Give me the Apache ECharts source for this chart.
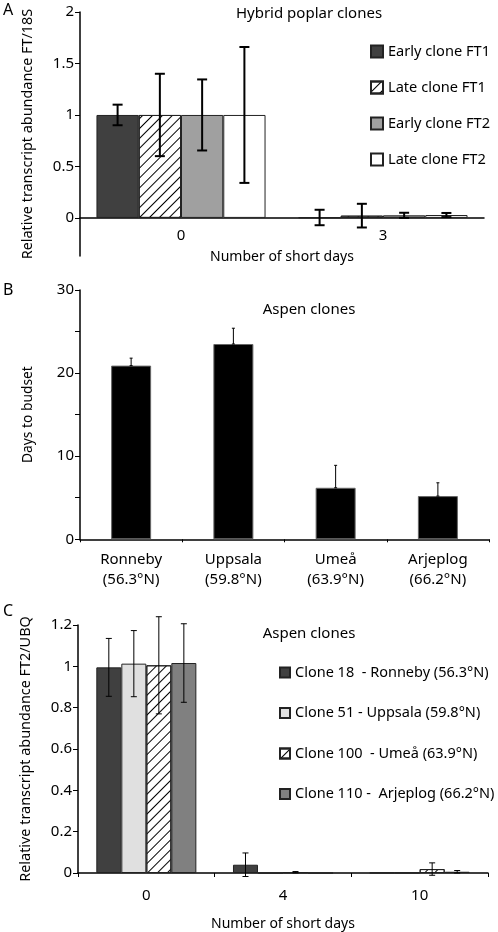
<!DOCTYPE html>
<html>
<head>
<meta charset="utf-8">
<script src="https://cdn.jsdelivr.net/npm/echarts@6/dist/echarts.min.js"></script>
<style>html,body{margin:0;padding:0;background:#fff;}#c{width:498px;height:932px;}</style>
</head>
<body>
<div id="c"></div>
<script>
// ---------- Panel A data ----------
const catsA = ['0', '3'];
const namesA = ['Early clone FT1', 'Late clone FT1', 'Early clone FT2', 'Late clone FT2'];
const earlyFT1 = [1.0, 0.004];
const lateFT1 = [1.0, 0.022];
const earlyFT2 = [1.0, 0.025];
const lateFT2 = [1.0, 0.028];
const errEarlyFT1 = [0.10, 0.075];
const errLateFT1 = [0.40, 0.115];
const errEarlyFT2 = [0.345, 0.025];
const errLateFT2 = [0.66, 0.02];
const ticksA = [0, 0.5, 1, 1.5, 2];
const rangeA = [-0.37, 2];

// ---------- Panel B data ----------
const catsB = ['Ronneby\n(56.3°N)', 'Uppsala\n(59.8°N)', 'Umeå\n(63.9°N)', 'Arjeplog\n(66.2°N)'];
const daysToBudset = [20.9, 23.5, 6.2, 5.2];
const errBudset = [0.9, 1.9, 2.7, 1.6];

// ---------- Panel C data ----------
const catsC = ['0', '4', '10'];
const namesC = ['Clone 18  - Ronneby (56.3°N)', 'Clone 51 - Uppsala (59.8°N)', 'Clone 100  - Umeå (63.9°N)', 'Clone 110 -  Arjeplog (66.2°N)'];
const clone18 = [0.995, 0.040, 0.001];
const clone51 = [1.013, 0.000, 0.001];
const clone100 = [1.005, 0.004, 0.019];
const clone110 = [1.016, 0.000, 0.006];
const errClone18 = [0.14, 0.057, 0];
const errClone51 = [0.16, 0, 0];
const errClone100 = [0.235, 0.003, 0.030];
const errClone110 = [0.19, 0, 0.006];

const FONT = 'Noto Sans';
const hatch = { symbol: 'rect', symbolSize: 1, dashArrayX: [1, 0], dashArrayY: [1, 6], rotation: -Math.PI / 4, color: '#000' };

function errData(valsList, errList, both) {
  const out = [];
  valsList.forEach((vals, s) => {
    vals.forEach((v, c) => {
      const e = errList[s][c];
      if (e > 0) out.push([c, s, both ? v - e : v, v + e]);
    });
  });
  return out;
}

function errRender(n, gapPct, capHalf, lw, fixedW) {
  return function (params, api) {
    const c = api.value(0), s = api.value(1), lo = api.value(2), hi = api.value(3);
    const band = api.size([1, 0])[0];
    let cx;
    if (fixedW) {
      cx = api.coord([c, 0])[0];
    } else {
      const groupW = band * (1 - gapPct);
      const bw = groupW / n;
      cx = api.coord([c, 0])[0] - groupW / 2 + bw * (s + 0.5);
    }
    const yl = api.coord([c, lo])[1], yh = api.coord([c, hi])[1];
    const st = { stroke: '#000', lineWidth: lw };
    return {
      type: 'group',
      children: [
        { type: 'line', shape: { x1: cx, y1: yl, x2: cx, y2: yh }, style: st },
        { type: 'line', shape: { x1: cx - capHalf, y1: yh, x2: cx + capHalf, y2: yh }, style: st },
        { type: 'line', shape: { x1: cx - capHalf, y1: yl, x2: cx + capHalf, y2: yl }, style: st }
      ]
    };
  };
}

const axisTxt = { color: '#000', fontFamily: FONT, fontSize: 15 };
const nameTxt = (fs) => ({ color: '#000', fontFamily: FONT, fontSize: fs });
const blackLine = (w) => ({ show: true, onZero: false, lineStyle: { color: '#000', width: w } });

const gridA = { left: 80, top: 12, width: 404, height: 244 };
// x axis of panel A sits at value 0 of its y axis
const offsetA = -gridA.height * (0 - rangeA[0]) / (rangeA[1] - rangeA[0]);

const chart = echarts.init(document.getElementById('c'), null, { renderer: 'canvas' });
const option = {
  backgroundColor: '#fff',
  animation: false,
  textStyle: { fontFamily: FONT },
  graphic: [
    { type: 'text', left: 3, top: 2, style: { text: 'A', fontSize: 16, fontFamily: FONT, fill: '#000' } },
    { type: 'text', left: 3, top: 282, style: { text: 'B', fontSize: 16, fontFamily: FONT, fill: '#000' } },
    { type: 'text', left: 3, top: 603, style: { text: 'C', fontSize: 16, fontFamily: FONT, fill: '#000' } },
    { type: 'text', x: 309, y: 14, style: { text: 'Hybrid poplar clones', fontSize: 15, fontFamily: FONT, fill: '#000', align: 'center', verticalAlign: 'middle' } },
    { type: 'text', x: 309, y: 310, style: { text: 'Aspen clones', fontSize: 15, fontFamily: FONT, fill: '#000', align: 'center', verticalAlign: 'middle' } },
    { type: 'text', x: 309, y: 634, style: { text: 'Aspen clones', fontSize: 15, fontFamily: FONT, fill: '#000', align: 'center', verticalAlign: 'middle' } }
  ],
  legend: [
    {
      data: namesA, orient: 'vertical', left: 370, top: 44, padding: 0, itemWidth: 12, itemHeight: 12, itemGap: 21,
      icon: 'rect', textStyle: { color: '#000', fontSize: 14.6, fontFamily: FONT, lineHeight: 15 }, selectedMode: false
    },
    {
      data: namesC, orient: 'vertical', left: 279, top: 665, padding: 0, itemWidth: 10, itemHeight: 10, itemGap: 25.5,
      icon: 'rect', textStyle: { color: '#000', fontSize: 14.5, fontFamily: FONT, lineHeight: 15 }, selectedMode: false
    }
  ],
  grid: [
    gridA,
    { left: 80, top: 290, width: 409, height: 249.3 },
    { left: 78, top: 625, width: 410, height: 248.3 }
  ],
  xAxis: [
    {
      gridIndex: 0, type: 'category', data: catsA, offset: offsetA, axisTick: { show: false }, axisLine: blackLine(1.5),
      axisLabel: Object.assign({ margin: 10 }, axisTxt),
      name: 'Number of short days', nameLocation: 'middle', nameGap: 32, nameTextStyle: nameTxt(14)
    },
    {
      gridIndex: 1, type: 'category', data: catsB, axisTick: { show: true, length: 3, lineStyle: { color: '#000' } }, axisLine: blackLine(1.5),
      axisLabel: Object.assign({ margin: 10, lineHeight: 20 }, axisTxt)
    },
    {
      gridIndex: 2, type: 'category', data: catsC, axisTick: { show: true, length: 4, lineStyle: { color: '#000' } }, axisLine: blackLine(1.5),
      axisLabel: Object.assign({ margin: 15 }, axisTxt),
      name: 'Number of short days', nameLocation: 'middle', nameGap: 44, nameTextStyle: nameTxt(14)
    }
  ],
  yAxis: [
    {
      gridIndex: 0, type: 'value', min: rangeA[0], max: rangeA[1], splitLine: { show: false }, axisLine: blackLine(1.5),
      axisTick: { show: true, length: 5, customValues: ticksA, lineStyle: { color: '#000' } },
      axisLabel: Object.assign({ margin: 6, customValues: ticksA }, axisTxt),
      name: 'Relative transcript abundance FT/18S', nameLocation: 'middle', nameGap: 45, nameTextStyle: nameTxt(14.4)
    },
    {
      gridIndex: 1, type: 'value', min: 0, max: 30, interval: 5, splitLine: { show: false }, axisLine: blackLine(1.5),
      axisTick: { show: true, length: 5, lineStyle: { color: '#000' } },
      axisLabel: Object.assign({ margin: 6, formatter: (v) => (v % 10 === 0 ? String(v) : '') }, axisTxt),
      name: 'Days to budset', nameLocation: 'middle', nameGap: 45, nameTextStyle: nameTxt(13.8)
    },
    {
      gridIndex: 2, type: 'value', min: 0, max: 1.2, interval: 0.2, splitLine: { show: false }, axisLine: blackLine(1.5),
      axisTick: { show: true, length: 5, lineStyle: { color: '#000' } },
      axisLabel: Object.assign({ margin: 6 }, axisTxt),
      name: 'Relative transcript abundance FT2/UBQ', nameLocation: 'middle', nameGap: 45, nameTextStyle: nameTxt(14.4)
    }
  ],
  series: [
    // Panel A bars
    { name: namesA[0], type: 'bar', xAxisIndex: 0, yAxisIndex: 0, data: earlyFT1, barGap: '0%', barCategoryGap: '16.3%', itemStyle: { color: '#404040', borderColor: '#222', borderWidth: 1 } },
    { name: namesA[1], type: 'bar', xAxisIndex: 0, yAxisIndex: 0, data: lateFT1, barGap: '0%', barCategoryGap: '16.3%', itemStyle: { color: '#fff', borderColor: '#222', borderWidth: 1, decal: hatch } },
    { name: namesA[2], type: 'bar', xAxisIndex: 0, yAxisIndex: 0, data: earlyFT2, barGap: '0%', barCategoryGap: '16.3%', itemStyle: { color: '#a0a0a0', borderColor: '#222', borderWidth: 1 } },
    { name: namesA[3], type: 'bar', xAxisIndex: 0, yAxisIndex: 0, data: lateFT2, barGap: '0%', barCategoryGap: '16.3%', itemStyle: { color: '#fff', borderColor: '#222', borderWidth: 1 } },
    {
      name: 'errA', type: 'custom', xAxisIndex: 0, yAxisIndex: 0, z: 5,
      renderItem: errRender(4, 0.163, 5, 2, false),
      encode: { x: 0, y: [2, 3] },
      data: errData([earlyFT1, lateFT1, earlyFT2, lateFT2], [errEarlyFT1, errLateFT1, errEarlyFT2, errLateFT2], true)
    },
    // Panel B
    { name: 'Days to budset', type: 'bar', xAxisIndex: 1, yAxisIndex: 1, data: daysToBudset, barWidth: 40, itemStyle: { color: '#000', borderColor: '#666', borderWidth: 1 } },
    {
      name: 'errB', type: 'custom', xAxisIndex: 1, yAxisIndex: 1, z: 5,
      renderItem: errRender(1, 0, 1.5, 1, true),
      encode: { x: 0, y: [2, 3] },
      data: errData([daysToBudset], [errBudset], false)
    },
    // Panel C bars
    { name: namesC[0], type: 'bar', xAxisIndex: 2, yAxisIndex: 2, data: clone18, barGap: '0%', barCategoryGap: '26.8%', itemStyle: { color: '#404040', borderColor: '#222', borderWidth: 1 } },
    { name: namesC[1], type: 'bar', xAxisIndex: 2, yAxisIndex: 2, data: clone51, barGap: '0%', barCategoryGap: '26.8%', itemStyle: { color: '#e0e0e0', borderColor: '#222', borderWidth: 1 } },
    { name: namesC[2], type: 'bar', xAxisIndex: 2, yAxisIndex: 2, data: clone100, barGap: '0%', barCategoryGap: '26.8%', itemStyle: { color: '#fff', borderColor: '#222', borderWidth: 1, decal: hatch } },
    { name: namesC[3], type: 'bar', xAxisIndex: 2, yAxisIndex: 2, data: clone110, barGap: '0%', barCategoryGap: '26.8%', itemStyle: { color: '#808080', borderColor: '#222', borderWidth: 1 } },
    {
      name: 'errC', type: 'custom', xAxisIndex: 2, yAxisIndex: 2, z: 5,
      renderItem: errRender(4, 0.268, 3, 1, false),
      encode: { x: 0, y: [2, 3] },
      data: errData([clone18, clone51, clone100, clone110], [errClone18, errClone51, errClone100, errClone110], true)
    }
  ]
};
chart.setOption(option);
</script>
</body>
</html>
